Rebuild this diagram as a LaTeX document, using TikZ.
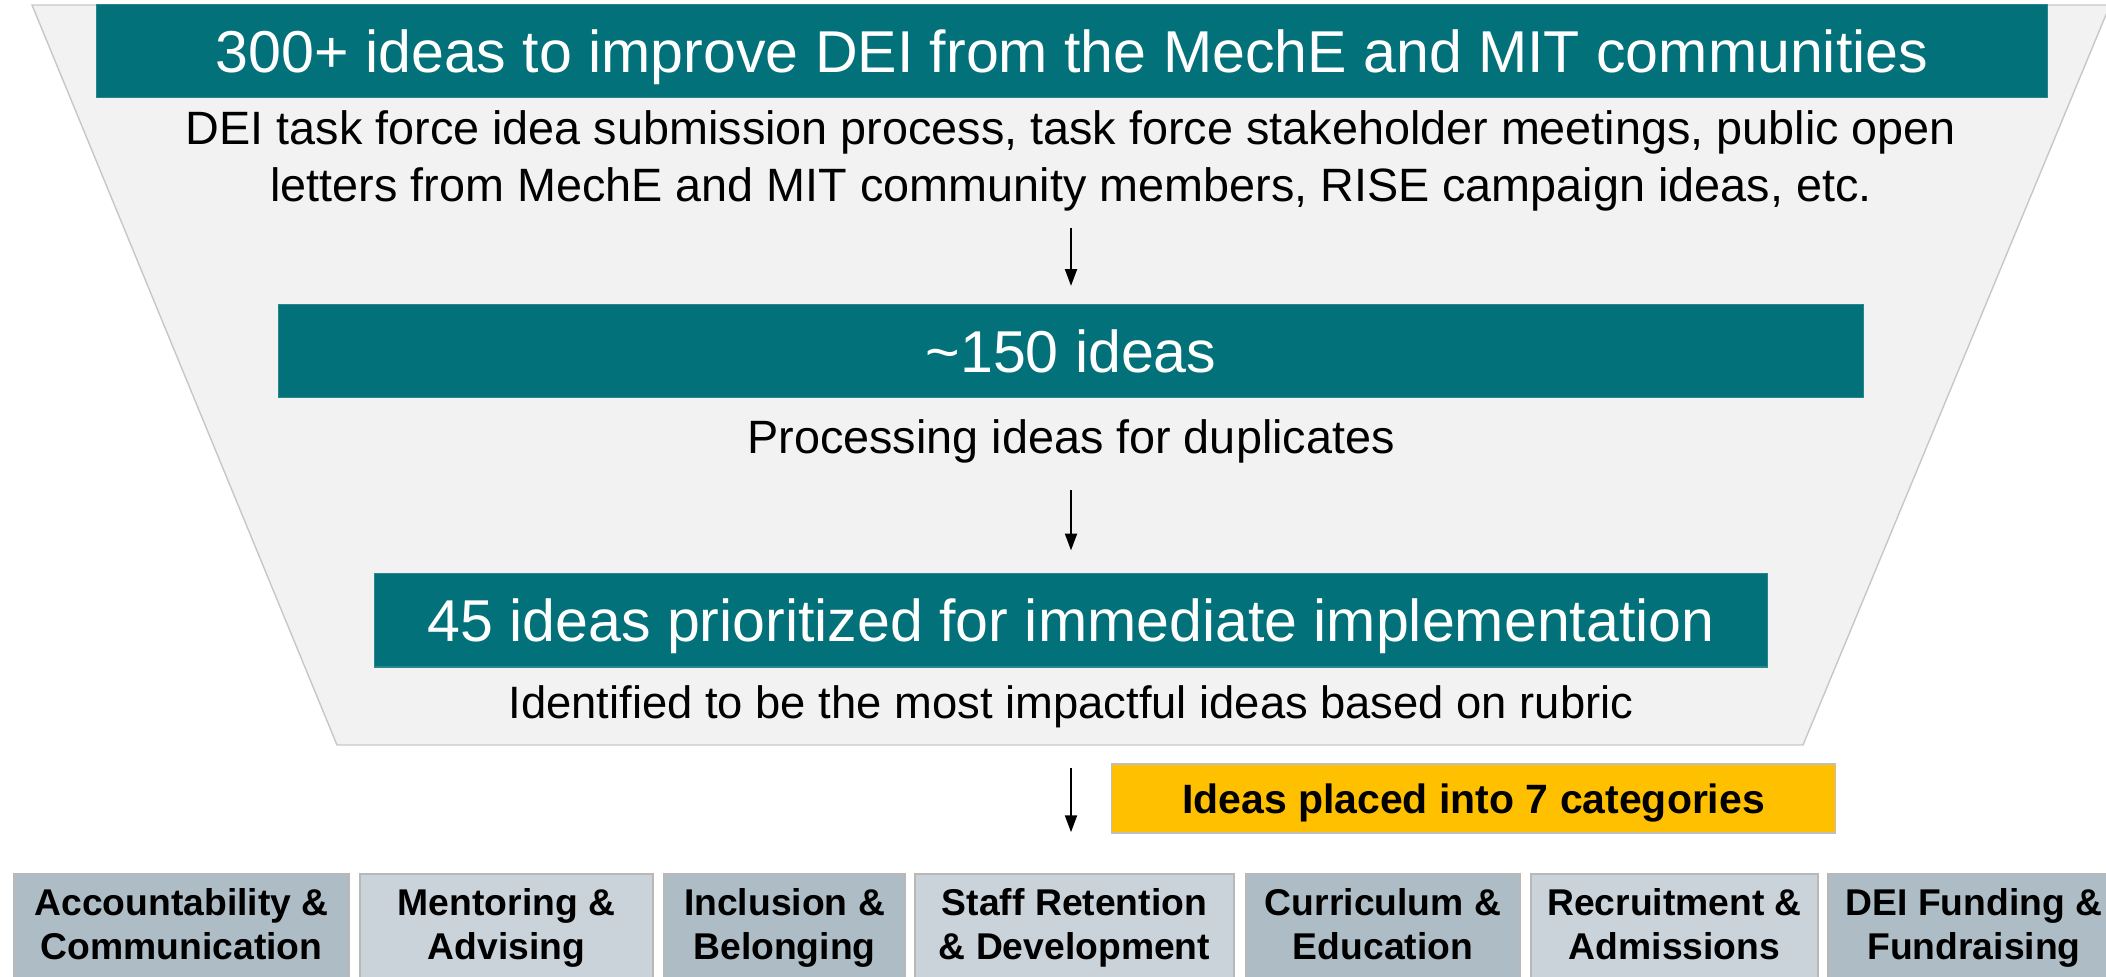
\documentclass[tikz,border=0pt]{standalone}
\usepackage{fontspec}
\setmainfont{Liberation Sans}
\usetikzlibrary{arrows.meta}
\definecolor{bandteal}{RGB}{3,113,121}
\definecolor{funnelgray}{RGB}{242,242,242}
\definecolor{catdark}{RGB}{174,189,197}
\definecolor{catlight}{RGB}{202,211,218}
\definecolor{gold}{RGB}{255,192,0}
\begin{document}
\begin{tikzpicture}[x=0.01cm,y=-0.01cm,
  funnel/.style={fill=funnelgray, draw=black!22, line width=0.4pt},
  band/.style={fill=bandteal, draw=bandteal!85!white, line width=0.3pt, text=white,
    inner sep=0pt, minimum height=0.93cm,
    font=\fontsize{16.8}{20}\selectfont, text height=12.0pt, text depth=0pt},
  note/.style={inner sep=0pt, font=\fontsize{13.3}{16.2}\selectfont},
  flow/.style={-{Triangle[length=4.8pt,width=3.4pt]}, line width=0.6pt},
  catbox/.style={draw=black!28, line width=0.4pt, inner sep=0pt, minimum height=1.10cm,
    font=\bfseries\fontsize{10.6}{12.5}\selectfont},
  darkcat/.style={catbox, fill=catdark},
  lightcat/.style={catbox, fill=catlight},
  banner/.style={fill=gold, draw=black!25, line width=0.3pt, inner sep=0pt,
    minimum width=7.23cm, minimum height=0.69cm,
    font=\bfseries\fontsize{11.65}{14}\selectfont, text height=8.35pt, text depth=0pt}
  ]
\useasboundingbox (0,0) rectangle (2106,977);
\clip (0,0) rectangle (2106,977);

% funnel background
\fill[funnel] (32,5) -- (2110,5) -- (1803,745) -- (337,745) -- cycle;

% stage 1
\node[band, minimum width=19.50cm] (t1) at (1072,51)
  {300+ ideas to improve DEI from the MechE and MIT communities};
\node[note] (s1) at (1071,162) {\begin{tabular}{@{}c@{}}DEI task force idea submission process, task force stakeholder meetings, public open\\letters from MechE and MIT community members, RISE campaign ideas, etc.\end{tabular}};

% stage 2
\node[band, minimum width=15.84cm] (t2) at (1071,351) {\textasciitilde 150 ideas};
\node[note, anchor=base] (s2) at (1071,454) {Processing ideas for duplicates};

% stage 3
\node[band, minimum width=13.92cm] (t3) at (1071,620.5)
  {45 ideas prioritized for immediate implementation};
\node[note, anchor=base, font=\fontsize{12.9}{16.2}\selectfont] (s3) at (1071,719)
  {Identified to be the most impactful ideas based on rubric};

% categorisation banner
\node[banner] (ban) at (1473.5,798.5) {Ideas placed into 7 categories};

% categories
\node[darkcat, minimum width=3.35cm] (c1) at (181.5,929)
  {\begin{tabular}{@{}c@{}}Accountability \&\\Communication\end{tabular}};
\node[lightcat, minimum width=2.93cm] (c2) at (506.5,929)
  {\begin{tabular}{@{}c@{}}Mentoring \&\\Advising\end{tabular}};
\node[darkcat, minimum width=2.41cm] (c3) at (784.5,929)
  {\begin{tabular}{@{}c@{}}Inclusion \&\\Belonging\end{tabular}};
\node[lightcat, minimum width=3.19cm] (c4) at (1074.5,929)
  {\begin{tabular}{@{}c@{}}Staff Retention\\\& Development\end{tabular}};
\node[darkcat, minimum width=2.74cm] (c5) at (1383,929)
  {\begin{tabular}{@{}c@{}}Curriculum \&\\Education\end{tabular}};
\node[lightcat, minimum width=2.87cm] (c6) at (1674.5,929)
  {\begin{tabular}{@{}c@{}}Recruitment \&\\Admissions\end{tabular}};
\node[darkcat, minimum width=2.92cm] (c7) at (1974,929)
  {\begin{tabular}{@{}c@{}}DEI Funding \&\\Fundraising\end{tabular}};

% flow arrows
\draw[flow, shorten <=0.08cm, shorten >=0.18cm] (s1.south) -- (t2.north);
\draw[flow, shorten <=0.26cm, shorten >=0.23cm] (s2.south) -- (t3.north);
\draw[flow, shorten <=0.39cm, shorten >=0.41cm] (s3.south) -- (s3.south |- c4.north);
\end{tikzpicture}
\end{document}
